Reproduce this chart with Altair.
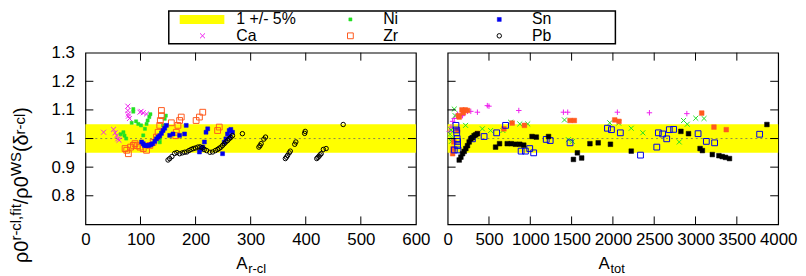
import altair as alt
import pandas as pd

W, H = 333, 173
FONT = "Liberation Sans"

# ---------------- data : left panel (A_r-cl) ----------------
ca_l_a = [33, 51, 54, 57, 59, 61, 77, 77, 78, 78, 80, 99, 101, 105, 111]
ca_l_v = [1.022, 1.032, 1.02, 1.01, 0.999, 0.994, 1.113, 1.098, 1.086, 1.078, 1.07, 1.092, 1.095, 1.09, 1.086]

ni_l_a = [64, 69, 71, 74, 84, 87, 87, 92, 96, 101, 105, 108, 111, 113, 116, 118, 135, 135, 138, 141, 144, 146]
ni_l_v = [1.015, 1.022, 1.01, 1.0, 1.055, 1.103, 1.094, 1.06, 1.051, 1.046, 1.011, 1.034, 1.051, 1.063, 1.075, 1.085,
          0.987, 0.999, 1.022, 1.046, 1.069, 1.08]

zr_l_a = [72, 75, 78, 82, 87, 90, 94, 99, 105, 111, 117, 123, 129, 132, 135, 136, 138, 138, 156, 164, 165, 168, 171,
          174, 201, 207, 213, 240, 243]
zr_l_v = [0.965, 0.959, 0.947, 0.97, 0.976, 0.982, 0.975, 0.97, 0.965, 0.959, 0.976, 0.987, 1.005, 1.022, 1.046, 1.063,
          1.08, 1.098, 1.055, 1.01, 1.022, 1.046, 1.063, 1.075, 1.063, 1.075, 1.092, 1.028, 1.04]

sn_l_a = [102, 105, 107, 110, 113, 116, 119, 122, 126, 129, 132, 135, 138, 141, 144, 147, 153, 159, 171, 180, 183, 207,
          210, 213, 216, 219, 222, 249, 252, 255, 258, 261, 264, 267, 262]
sn_l_v = [0.988, 0.982, 0.976, 0.975, 0.976, 0.976, 0.979, 0.982, 0.99, 0.999, 1.005, 1.01, 1.018, 1.028, 1.036, 1.046,
          1.011, 1.016, 1.011, 1.016, 1.046, 0.953, 0.962, 0.97, 0.988, 1.022, 1.034, 0.947, 0.987, 0.999, 1.016,
          1.028, 1.032, 1.022, 1.008]

pb_l_a = [150, 153, 157, 162, 166, 171, 176, 180, 184, 188, 192, 196, 200, 204, 208, 212, 216, 220, 226, 231, 236, 240,
          243, 246, 249, 252, 255, 258, 261, 264, 267, 285, 315, 317, 319, 324, 327, 363, 365, 367, 370, 372, 380,
          382, 398, 399, 420, 422, 424, 426, 428, 432, 437, 468]
pb_l_v = [0.925, 0.93, 0.937, 0.948, 0.951, 0.947, 0.95, 0.952, 0.953, 0.958, 0.962, 0.965, 0.967, 0.97, 0.971, 0.968,
          0.962, 0.958, 0.952, 0.953, 0.958, 0.962, 0.966, 0.97, 0.976, 0.982, 0.988, 0.993, 0.999, 1.004, 1.01,
          1.017, 0.97, 0.975, 0.982, 0.998, 1.005, 0.93, 0.935, 0.941, 0.95, 0.956, 0.98, 0.988, 1.018, 1.025,
          0.93, 0.934, 0.938, 0.943, 0.947, 0.962, 0.965, 1.049]

# ---------------- data : right panel (A_tot) ----------------
ca_r_a = [20, 40, 60, 80, 120, 160, 180, 240, 280, 360, 480, 500, 861, 1401, 1453, 2054, 2442, 2895]
ca_r_v = [1.025, 1.04, 1.06, 1.07, 1.085, 1.08, 1.08, 1.095, 1.095, 1.092, 1.115, 1.113, 1.098, 1.092, 1.092, 1.092,
          1.09, 1.087]

ni_r_a = [30, 40, 55, 45, 80, 90, 217, 420, 520, 669, 761, 873, 969, 1414, 1461, 1510, 1962, 2070, 2222, 2362, 2803,
          2855, 2900, 3003, 3103]
ni_r_v = [1.015, 1.03, 1.0, 0.99, 1.103, 1.08, 1.046, 1.034, 1.028, 1.028, 1.057, 1.051, 1.051, 1.065, 0.996, 0.99,
          1.055, 1.054, 1.036, 1.02, 0.988, 1.063, 1.05, 1.071, 1.07]

zr_r_a = [60, 65, 75, 120, 130, 140, 173, 190, 213, 240, 360, 681, 781, 929, 1481, 1533, 2022, 2074, 3075, 3223, 3372]
zr_r_v = [0.947, 0.965, 0.988, 1.03, 1.08, 1.075, 1.1, 1.09, 1.1, 1.098, 1.017, 1.034, 1.054, 1.046, 1.063, 1.063,
          1.065, 1.06, 1.089, 1.04, 1.031]

sn_r_a = [80, 100, 105, 110, 115, 120, 120, 125, 300, 441, 593, 701, 889, 941, 993, 1041, 1193, 1241, 1481, 1934, 1982,
          2090, 2334, 2531, 2550, 2602, 2651, 2683, 2735, 3031, 3131, 3231, 3776]
sn_r_v = [0.96, 1.046, 1.03, 1.02, 1.0, 0.99, 0.975, 0.96, 0.999, 1.007, 1.02, 1.046, 0.956, 0.956, 0.965, 0.95, 0.997,
          0.993, 0.985, 1.036, 1.031, 1.02, 0.942, 0.97, 1.02, 1.016, 0.999, 1.031, 1.032, 1.017, 0.99, 0.985, 1.015]

pb_r_a = [140, 160, 180, 200, 220, 240, 260, 280, 300, 320, 340, 360, 580, 628, 721, 769, 821, 873, 921, 1021, 1073,
          1221, 1522, 1570, 1622, 1722, 1822, 1970, 2222, 2823, 2915, 3055, 3083, 3203, 3283, 3323, 3363, 3411, 3864]
pb_r_v = [0.925, 0.935, 0.947, 0.955, 0.965, 0.975, 0.988, 0.999, 1.003, 1.01, 1.013, 1.017, 0.97, 0.982, 0.982,
          0.982, 0.98, 0.98, 0.977, 1.007, 1.005, 1.007, 0.927, 0.95, 0.932, 0.982, 0.985, 0.98, 0.956, 1.025, 1.017,
          0.965, 0.958, 0.944, 0.94, 0.937, 0.934, 0.93, 1.049]

band_lo, band_hi = [0.95], [1.05]
y_tick_vals = [0.8, 0.9, 1.0, 1.1, 1.2, 1.3]
x_left_ticks = [0, 100, 200, 300, 400, 500, 600]
x_right_ticks = [0, 500, 1000, 1500, 2000, 2500, 3000, 3500, 4000]
legend_labels = [["1 +/- 5%", "Ni", "Sn"], ["Ca", "Zr", "Pb"]]

# ---------------- styles ----------------
C_CA, C_NI, C_ZR, C_SN, C_PB = "#ee22ee", "#22e022", "#ff5a1e", "#0000ee", "#000000"
PLUS = "M-1,0L1,0M0,-1L0,1"
XS = "M-1,-1L1,1M-1,1L1,-1"
LBL = 17

one = pd.DataFrame({"d": [0]})


def txt(s, x, y, size, angle=0, align="left", baseline="alphabetic"):
    return alt.Chart(one).mark_text(text=s, fontSize=size, font=FONT, angle=angle, align=align,
                                    baseline=baseline, color="black").encode(x=alt.value(x), y=alt.value(y))


def panel(xdom, xticks, series, show_y, xtitle):
    xs = alt.Scale(domain=xdom, nice=False, zero=False)
    ys = alt.Scale(domain=[0.7, 1.3], nice=False, zero=False)
    xax = alt.Axis(values=xticks, format="d", title=None, grid=False, ticks=False, domain=False, labelFlush=False,
                   labelOverlap=False, labelBound=False, labelPadding=7, labelFontSize=LBL, labelFont=FONT,
                   labelColor="black")
    if show_y:
        yax = alt.Axis(values=y_tick_vals, format="~g", title=None, grid=False, ticks=False, domain=False,
                       labelPadding=11, labelFontSize=LBL, labelFont=FONT, labelColor="black", labelFlush=False,
                       labelOverlap=False)
    else:
        yax = None
    layers = []
    band = alt.Chart(pd.DataFrame({"lo": band_lo, "hi": band_hi})).mark_rect(color="#ffff00").encode(
        x=alt.value(0), x2=alt.value(W), y=alt.Y("lo:Q", scale=ys, axis=yax), y2="hi:Q")
    layers.append(band)
    dot = alt.Chart(pd.DataFrame({"c": [1.0]})).mark_rule(color="#8a8a50", strokeDash=[2, 3], strokeWidth=1).encode(
        y=alt.Y("c:Q", scale=ys, axis=yax), x=alt.value(0), x2=alt.value(W))
    layers.append(dot)
    for (a, v, style) in series:
        df = pd.DataFrame({"A": a, "v": v})
        layers.append(alt.Chart(df).mark_point(opacity=1, **style).encode(
            x=alt.X("A:Q", scale=xs, axis=xax), y=alt.Y("v:Q", scale=ys, axis=yax)))
    ydf = pd.DataFrame({"t": y_tick_vals[:-1]})
    layers.append(alt.Chart(ydf).mark_rule(color="black", strokeWidth=1).encode(
        y=alt.Y("t:Q", scale=ys, axis=yax), x=alt.value(0), x2=alt.value(8)))
    layers.append(alt.Chart(ydf).mark_rule(color="black", strokeWidth=1).encode(
        y=alt.Y("t:Q", scale=ys, axis=yax), x=alt.value(W - 8), x2=alt.value(W)))
    xdf = pd.DataFrame({"t": xticks[1:-1]})
    layers.append(alt.Chart(xdf).mark_rule(color="black", strokeWidth=1).encode(
        x=alt.X("t:Q", scale=xs, axis=xax), y=alt.value(H), y2=alt.value(H - 8)))
    layers.append(alt.Chart(xdf).mark_rule(color="black", strokeWidth=1).encode(
        x=alt.X("t:Q", scale=xs, axis=xax), y=alt.value(0), y2=alt.value(8)))
    # x-axis title with subscript
    layers.append(txt("A", 152, 218, 17))
    layers.append(txt(xtitle, 164, 222, 13))
    return layers


left_series = [
    (ca_l_a, ca_l_v, dict(shape=XS, filled=False, stroke=C_CA, size=25, strokeWidth=1)),
    (ni_l_a, ni_l_v, dict(shape="square", filled=True, fill=C_NI, stroke=C_NI, size=10, strokeWidth=0.5)),
    (zr_l_a, zr_l_v, dict(shape="square", filled=False, stroke=C_ZR, size=34, strokeWidth=1)),
    (sn_l_a, sn_l_v, dict(shape="square", filled=True, fill=C_SN, stroke=C_SN, size=16, strokeWidth=0.5)),
    (pb_l_a, pb_l_v, dict(shape="circle", filled=False, stroke=C_PB, size=20, strokeWidth=1)),
]
right_series = [
    (ca_r_a, ca_r_v, dict(shape=PLUS, filled=False, stroke=C_CA, size=30, strokeWidth=1)),
    (ni_r_a, ni_r_v, dict(shape=XS, filled=False, stroke=C_NI, size=25, strokeWidth=1)),
    (zr_r_a, zr_r_v, dict(shape="square", filled=True, fill=C_ZR, stroke=C_ZR, size=22, strokeWidth=0.5)),
    (sn_r_a, sn_r_v, dict(shape="square", filled=False, stroke=C_SN, size=34, strokeWidth=1)),
    (pb_r_a, pb_r_v, dict(shape="square", filled=True, fill=C_PB, stroke=C_PB, size=22, strokeWidth=0.5)),
]

left_layers = panel([0, 600], x_left_ticks, left_series, True, "r-cl")
right_layers = panel([0, 4000], x_right_ticks, right_series, False, "tot")

# y-axis title (rotated, reading upward, with super-scripts)
EM = {"ρ": 0.58, "0": 0.556, "/": 0.278, "(": 0.333, ")": 0.333, "δ": 0.556, "r": 0.333, "-": 0.333,
      "c": 0.5, "l": 0.222, ",": 0.278, "f": 0.278, "i": 0.222, "t": 0.278, "W": 0.944, "S": 0.667}
FM, FS = 20, 15
MB, SB, SB2 = -58, -65, -61
ytitle = [("ρ0", MB, FM), ("r-cl,fit", SB, FS), ("/", MB, FM), ("ρ0", MB, FM),
          ("WS", SB, FS), ("(δ", MB, FM), ("r-cl", SB2, FS), (")", MB, FM)]
ypos = 212
for s, x, fs in ytitle:
    left_layers.append(txt(s, x, ypos, fs, angle=270))
    ypos -= sum(EM[ch] for ch in s) * fs

# legend box
LT = -42
left_layers.append(alt.Chart(one).mark_rect(fill="white", stroke="black", strokeWidth=1.5).encode(
    x=alt.value(84), x2=alt.value(534), y=alt.value(LT), y2=alt.value(LT + 33)))
row_y = [LT + 8.5, LT + 25]
sym_x = [118, 267, 417]
txt_x = [152, 300, 450]
left_layers.append(alt.Chart(one).mark_rect(color="#ffff00").encode(
    x=alt.value(95), x2=alt.value(140), y=alt.value(row_y[0] - 4.5), y2=alt.value(row_y[0] + 4.5)))
leg_styles = {
    "Ni": dict(shape="square", filled=True, fill=C_NI, stroke=C_NI, size=10, strokeWidth=0.5),
    "Sn": dict(shape="square", filled=True, fill=C_SN, stroke=C_SN, size=16, strokeWidth=0.5),
    "Ca": dict(shape=XS, filled=False, stroke=C_CA, size=25, strokeWidth=1),
    "Zr": dict(shape="square", filled=False, stroke=C_ZR, size=34, strokeWidth=1),
    "Pb": dict(shape="circle", filled=False, stroke=C_PB, size=20, strokeWidth=1),
}
for r, row in enumerate(legend_labels):
    for c, lab in enumerate(row):
        left_layers.append(txt(lab, txt_x[c], row_y[r], 16, baseline="middle"))
        if lab in leg_styles:
            left_layers.append(alt.Chart(one).mark_point(opacity=1, **leg_styles[lab]).encode(
                x=alt.value(sym_x[c]), y=alt.value(row_y[r])))

left = alt.layer(*left_layers).properties(width=W, height=H)
right = alt.layer(*right_layers).properties(width=W, height=H)

chart = alt.hconcat(left, right, spacing=32, bounds="flush").properties(
    padding={"left": 0, "top": 0, "right": 0, "bottom": 0}
).configure_view(stroke="black", strokeWidth=1.2).configure_scale(continuousPadding=0)

chart.save("out.html", embed_options={"renderer": "svg", "actions": False})
